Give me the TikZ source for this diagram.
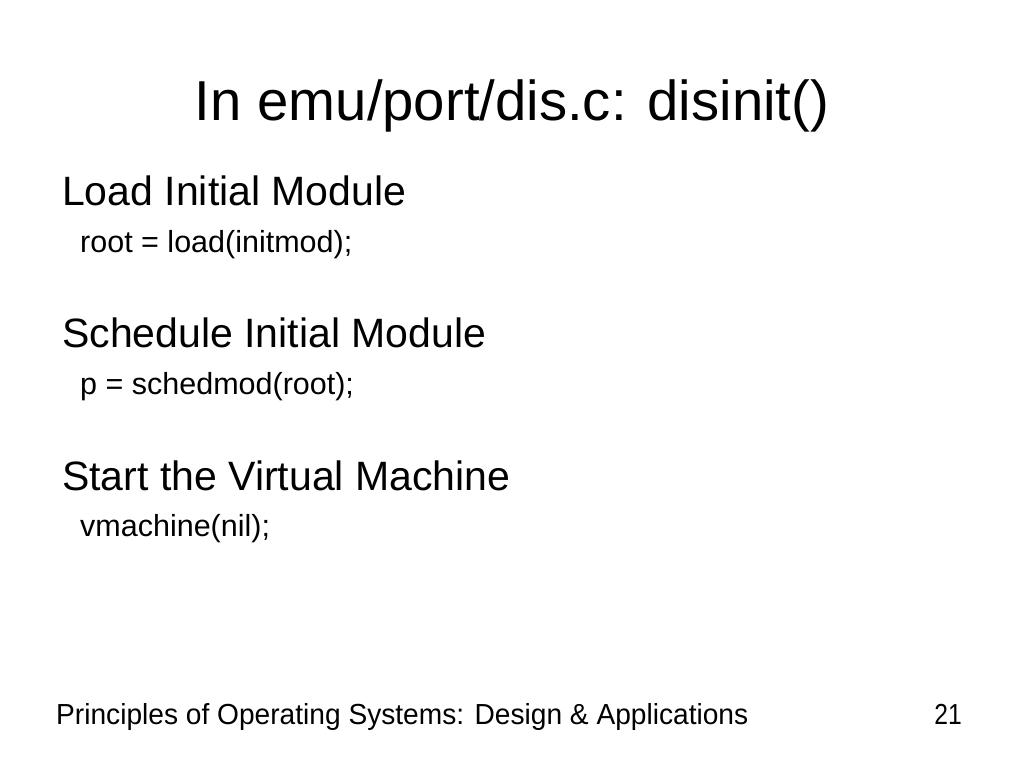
\documentclass[tikz,border=0pt]{standalone}
\usepackage{fontspec}
\setmainfont{Liberation Sans}
\begin{document}
\begin{tikzpicture}[x=1pt,y=-1pt,
  titletext/.style={anchor=base,inner sep=0pt,font=\fontsize{56.3}{60}\selectfont},
  headtext/.style={anchor=base west,inner sep=0pt,font=\fontsize{41}{44}\selectfont},
  codetext/.style={anchor=base west,inner sep=0pt,font=\fontsize{30.5}{32}\selectfont},
  foottext/.style={inner sep=0pt,font=\fontsize{29}{30}\selectfont}]
\useasboundingbox[fill=white] (0,0) rectangle (1023,767);
\node[titletext] (title) at (512,121) {In emu/port/dis.c: disinit()};
\node[headtext] (h1) at (62,206) {Load Initial Module};
\node[codetext] (c1) at (80,253) {root = load(initmod);};
\node[headtext] (h2) at (62,348) {Schedule Initial Module};
\node[codetext] (c2) at (80,395) {p = schedmod(root);};
\node[headtext] (h3) at (62,490) {Start the Virtual Machine};
\node[codetext] (c3) at (80,536) {vmachine(nil);};
\node[foottext,anchor=base west] (foot) at (56,724) {\scalebox{0.97}[1]{Principles of Operating Systems: Design \& Applications}};
\node[foottext,anchor=base east] (page) at (962,724) {\scalebox{0.85}[1]{21}};
\end{tikzpicture}
\end{document}
